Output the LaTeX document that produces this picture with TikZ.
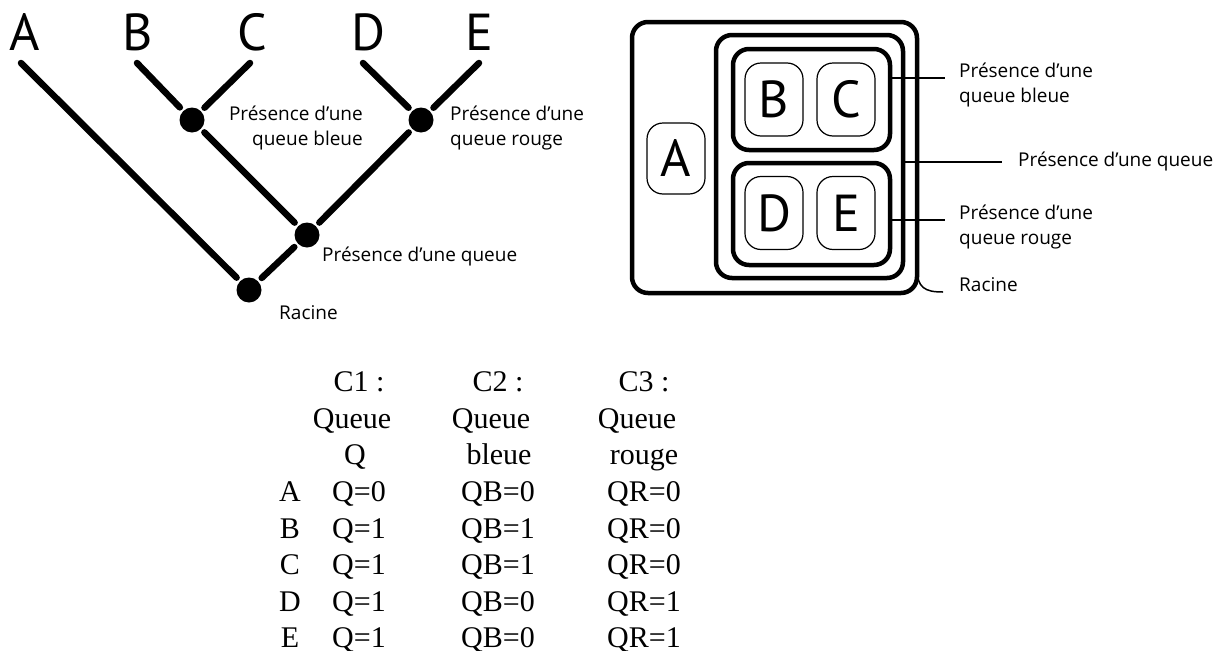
\documentclass[tikz,border=0pt]{standalone}
\usepackage{fontspec}
\setmainfont{Liberation Serif}
\newfontfamily\labfont{PT Sans}
\newfontfamily\smallfont{Open Sans}
\begin{document}
\begin{tikzpicture}[x=1pt,y=-1pt,
  treeline/.style={line width=6.5pt,line cap=round},
  dot/.style={circle,fill=black,inner sep=0pt,minimum size=25pt,outer sep=5pt},
  bigletter/.style={font=\labfont\fontsize{52}{52}\selectfont,inner sep=0pt},
  lbl/.style={font=\smallfont\fontsize{19}{25.5}\selectfont,inner sep=0pt},
  setbox/.style={draw,line width=4.5pt,rounded corners=16pt,inner sep=0pt,outer sep=0pt},
  leaf/.style={draw,line width=1.2pt,rounded corners=16pt,inner sep=0pt,outer sep=0pt,
    minimum width=58pt,minimum height=73pt,font=\labfont\fontsize{52}{52}\selectfont},
  leader/.style={line width=1.5pt},
  tab/.style={font=\fontsize{30}{33}\selectfont,inner sep=0pt,anchor=base}
]
\useasboundingbox (0,0) rectangle (1227,651);

% ---------- tree ----------
\node[bigletter,anchor=base] (tA) at (25,50) {A};
\node[bigletter,anchor=base] (tB) at (138,50) {B};
\node[bigletter,anchor=base] (tC) at (252,50) {C};
\node[bigletter,anchor=base] (tD) at (369,50) {D};
\node[bigletter,anchor=base] (tE) at (479,50) {E};
\coordinate (cA) at (21,63);
\coordinate (cB) at (137,63);
\coordinate (cC) at (250,63);
\coordinate (cD) at (363,63);
\coordinate (cE) at (479,63);
\node[dot] (blue) at (192,120) {};
\node[dot] (red) at (421,120) {};
\node[dot] (mid) at (307,235) {};
\node[dot] (root) at (249,290) {};
\draw[treeline] (cA) -- (root);
\draw[treeline] (cB) -- (blue);
\draw[treeline] (cC) -- (blue);
\draw[treeline] (cD) -- (red);
\draw[treeline] (cE) -- (red);
\draw[treeline] (blue) -- (mid);
\draw[treeline] (red) -- (mid);
\draw[treeline] (mid) -- (root);
\node[lbl,anchor=east,align=right] (lblue) at (363,128) {Présence d’une\\queue bleue};
\node[lbl,anchor=west,align=left] (lred) at (450,128) {Présence d’une\\queue rouge};
\node[lbl,anchor=west] (lmid) at (322,257) {Présence d’une queue};
\node[lbl,anchor=west] (lroot) at (279,313) {Racine};

% ---------- nested sets ----------
\node[setbox,minimum width=285pt,minimum height=271pt] (outer) at (774.5,157.5) {};
\node[setbox,minimum width=187pt,minimum height=243pt] (midbox) at (809.5,156.5) {};
\node[setbox,minimum width=157pt,minimum height=101pt] (bbox) at (811.5,99.5) {};
\node[setbox,minimum width=157pt,minimum height=102pt] (rbox) at (811.5,214) {};
\node[leaf] (sB) at (774,99.5) {B};
\node[leaf] (sC) at (846,99.5) {C};
\node[leaf] (sD) at (774,213) {D};
\node[leaf] (sE) at (846,213) {E};
\node[leaf,minimum height=71pt] (sA) at (676,158.5) {A};

\coordinate (kb) at (945,78);
\coordinate (kq) at (1002,162);
\coordinate (kr) at (945,220);
\coordinate (kroot) at (943,292);
\draw[leader] (bbox.east |- kb) -- (kb);
\draw[leader] (midbox.east |- kq) -- (kq);
\draw[leader] (rbox.east |- kr) -- (kr);
\draw[leader] (outer.east |- 0,268) .. controls (917,288) and (925,292) .. (kroot);
\node[lbl,anchor=west,align=left] (rb) at (959,85) {Présence d’une\\queue bleue};
\node[lbl,anchor=west] (rq) at (1018,162) {Présence d’une queue};
\node[lbl,anchor=west,align=left] (rr) at (959,227) {Présence d’une\\queue rouge};
\node[lbl,anchor=west] (rroot) at (959,285) {Racine};

% ---------- table ----------
\node[tab] (h1a) at (359,391) {C1 :};
\node[tab] (h1b) at (352,428) {Queue};
\node[tab] (h1c) at (355,464) {Q};
\node[tab] (h2a) at (498,391) {C2 :};
\node[tab] (h2b) at (491,428) {Queue};
\node[tab] (h2c) at (499,464) {bleue};
\node[tab] (h3a) at (644,391) {C3 :};
\node[tab] (h3b) at (637,428) {Queue};
\node[tab] (h3c) at (644,464) {rouge};

\node[tab] (rA) at (290,501) {A};
\node[tab] (rB) at (290,538) {B};
\node[tab] (rC) at (290,574) {C};
\node[tab] (rD) at (290,611) {D};
\node[tab] (rE) at (290,647) {E};

\node[tab] (a1) at (359,501) {Q=0};
\node[tab] (b1) at (359,538) {Q=1};
\node[tab] (c1) at (359,574) {Q=1};
\node[tab] (d1) at (359,611) {Q=1};
\node[tab] (e1) at (359,647) {Q=1};

\node[tab] (a2) at (498,501) {QB=0};
\node[tab] (b2) at (498,538) {QB=1};
\node[tab] (c2) at (498,574) {QB=1};
\node[tab] (d2) at (498,611) {QB=0};
\node[tab] (e2) at (498,647) {QB=0};

\node[tab] (a3) at (644,501) {QR=0};
\node[tab] (b3) at (644,538) {QR=0};
\node[tab] (c3) at (644,574) {QR=0};
\node[tab] (d3) at (644,611) {QR=1};
\node[tab] (e3) at (644,647) {QR=1};
\end{tikzpicture}
\end{document}
